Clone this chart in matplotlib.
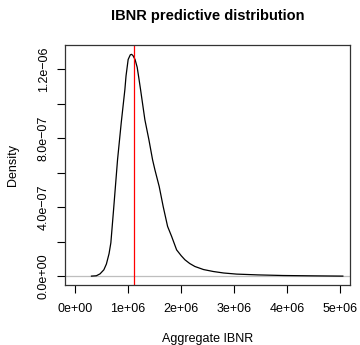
import numpy as np
import matplotlib
matplotlib.use("Agg")
import matplotlib.pyplot as plt

plt.rcParams['font.family'] = ['Liberation Sans', 'DejaVu Sans']

# density curve (x in IBNR, y in density)
ibnr_x = np.array([0.309, 0.400, 0.470, 0.542, 0.590, 0.640, 0.674, 0.725, 0.800,
                   0.870, 0.938, 0.960, 1.000, 1.040, 1.064, 1.090, 1.130, 1.170,
                   1.200, 1.234, 1.315, 1.391, 1.460, 1.504, 1.585, 1.660, 1.743,
                   1.819, 1.913, 2.000, 2.070, 2.160, 2.258, 2.420, 2.604, 2.800,
                   3.045, 3.450, 3.919, 4.500, 5.045]) * 1e6
dens_y = np.array([0.0, 0.02, 0.13, 0.365, 0.70, 1.30, 1.93, 3.84, 6.74,
                   8.90, 10.80, 11.60, 12.55, 12.82, 12.85, 12.78, 12.55, 12.10,
                   11.50, 10.80, 9.06, 7.90, 6.74, 6.16, 5.19, 4.03, 2.88,
                   2.30, 1.52, 1.18, 0.945, 0.73, 0.557, 0.38, 0.267, 0.18,
                   0.116, 0.07, 0.035, 0.015, 0.0]) * 1e-7
ibnr_mark = 1.107e6

xticks = [0, 1e6, 2e6, 3e6, 4e6, 5e6]
xticklabels = ['0e+00', '1e+06', '2e+06', '3e+06', '4e+06', '5e+06']
yticks = [0, 2e-7, 4e-7, 6e-7, 8e-7, 1.0e-6, 1.2e-6]
yticklabels = ['0.0e+00', '', '4.0e\u221207', '', '8.0e\u221207', '', '1.2e\u221206']

fig = plt.figure(figsize=(3.6, 3.45), dpi=100)
ax = fig.add_axes([65 / 360, 60 / 345, 285 / 360, 240 / 345])

ax.axhline(0, color='#BEBEBE', lw=0.9)
ax.plot(ibnr_x, dens_y, color='black', lw=0.9)
ax.axvline(ibnr_mark, color='red', lw=0.9)

ax.set_xlim(-0.19e6, 5.18e6)
ax.set_ylim(-0.0515e-6, 1.339e-6)

ax.set_xticks(xticks)
ax.set_xticklabels(xticklabels)
ax.set_yticks(yticks)
ax.set_yticklabels(yticklabels, rotation=90, va='center')
ax.tick_params(axis='both', labelsize=9, length=6, width=0.8, direction='out')
ax.tick_params(axis='x', pad=7)
ax.tick_params(axis='y', pad=5)
for s in ax.spines.values():
    s.set_linewidth(0.9)
    s.set_color('#333333')

ax.set_xlabel('Aggregate IBNR', fontsize=9, va='center')
ax.xaxis.set_label_coords(0.5, -0.225)
ax.set_ylabel('Density', fontsize=9, va='center')
ax.yaxis.set_label_coords(-0.1835, 0.5)
ax.set_title('IBNR predictive distribution', fontsize=10.5, fontweight='bold',
             va='center', y=1.121, pad=0)

fig.savefig('out.png', dpi=100)
